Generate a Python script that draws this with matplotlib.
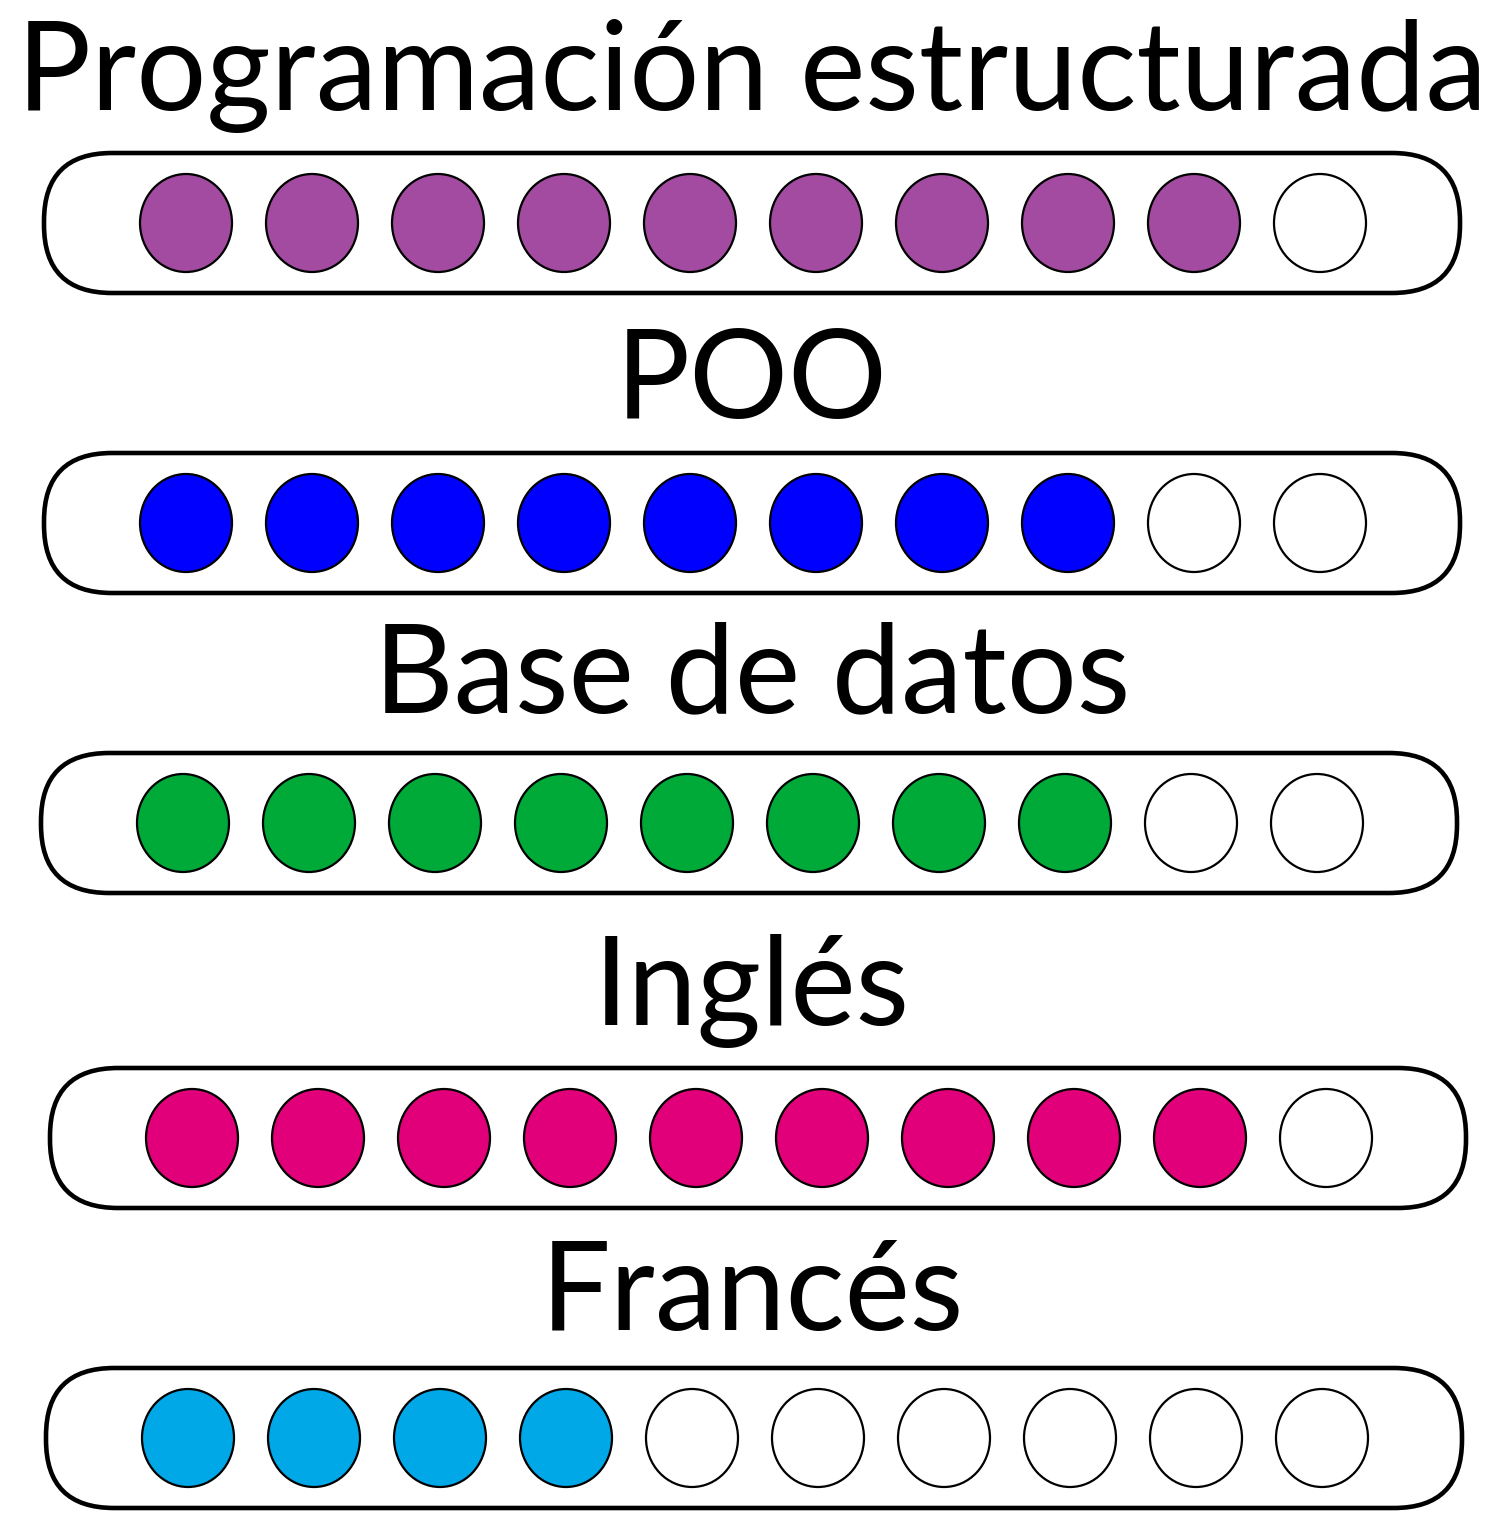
import matplotlib.pyplot as plt
from matplotlib.patches import FancyBboxPatch, Ellipse

skills = ['Programación estructurada', 'POO', 'Base de datos', 'Inglés', 'Francés']
levels = [9, 8, 8, 9, 4]
total = 10
colors = ['#A24BA0', '#0000FF', '#00AA38', '#E2007A', '#00A8E8']

# layout (pixels)
baselines = [110, 418, 712, 1025, 1330]
pill_left = [44, 44, 41, 50, 46]
pill_top = [153, 453, 753, 1068, 1368]
pill_w, pill_h = 1416, 140
step = 126

fig = plt.figure(figsize=(15, 15.4), dpi=100)
ax = fig.add_axes([0, 0, 1, 1])
ax.set_xlim(0, 1500)
ax.set_ylim(1540, 0)
ax.axis('off')

for i, name in enumerate(skills):
    ax.text(752, baselines[i], name, ha='center', va='baseline',
            fontsize=89, family='Lato', color='black')
    x0, y0 = pill_left[i], pill_top[i]
    ax.add_patch(FancyBboxPatch((x0, y0), pill_w, pill_h,
                                boxstyle='round,pad=0,rounding_size=68',
                                fc='white', ec='black', lw=3.3))
    cy = y0 + pill_h / 2
    for k in range(total):
        cx = x0 + 142 + k * step
        fc = colors[i] if k < levels[i] else 'white'
        ax.add_patch(Ellipse((cx, cy), 92, 98, fc=fc, ec='black', lw=1.6))

fig.savefig('out.png', dpi=100)
